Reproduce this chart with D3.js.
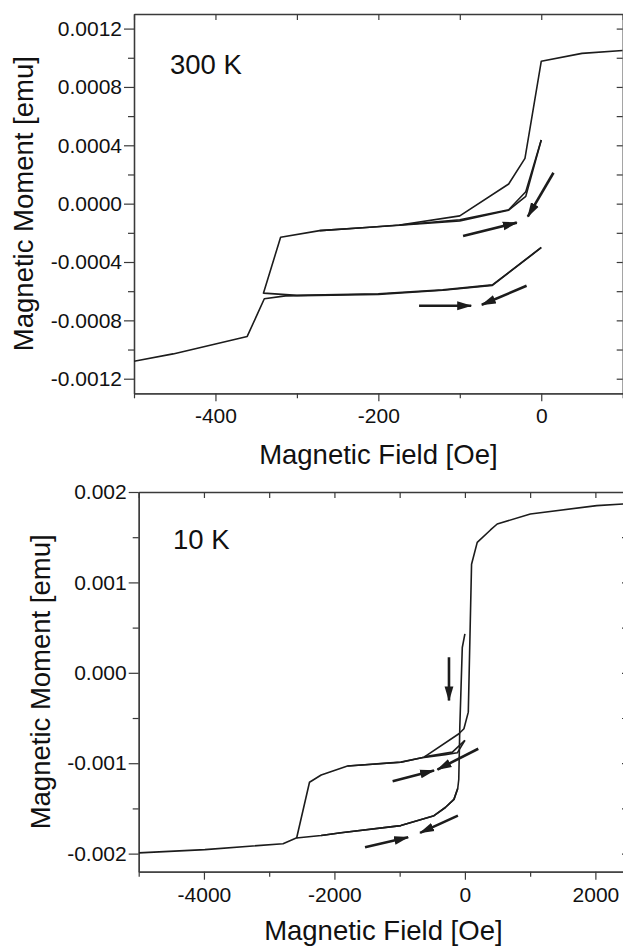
<!DOCTYPE html>
<html>
<head>
<meta charset="utf-8">
<script src="https://cdn.jsdelivr.net/npm/d3@7"></script>
<style>
    html, body { margin: 0; padding: 0; background: #fff; }
    svg { display: block; font-family: "Liberation Sans", Arial, Helvetica, sans-serif; }
</style>
</head>
<body>
<svg id="chart" width="623" height="948"></svg>
<script>
// ---- 300 K panel data: [field (Oe), moment (emu)] ----
const k300Main = [[100, 0.00105], [50, 0.00103], [0, 0.000976], [-20, 0.00031], [-40, 0.000135],
    [-100, -0.000084], [-174, -0.000146], [-215, -0.000164], [-272, -0.000185], [-320, -0.00023],
    [-341, -0.000613], [-300, -0.000629], [-200, -0.000618], [-121, -0.000591], [-60, -0.000557], [0, -0.0003]];
const k300MinorUp = [[-272, -0.000185], [-215, -0.000164], [-174, -0.000148], [-100, -0.000118], [-40, -0.000045],
    [-19, 0.00005], [0, 0.000436]];
const k300MinorDown = [[0, 0.000436], [-19, 0.000082], [-40, -0.000042], [-100, -0.00011], [-174, -0.000146]];
const k300Lower = [[-500, -0.00108], [-452, -0.00103], [-361, -0.00091], [-340, -0.000652], [-314, -0.000632],
    [-200, -0.000622], [-121, -0.000594], [-60, -0.00056], [0, -0.000302]];
const k300Arrows = [
    [[-96, -0.000221], [-30, -0.00013]],
    [[15, 0.000212], [-16.5, -0.000089]],
    [[-150, -0.0007], [-86, -0.0007]],
    [[-18, -0.000563], [-73, -0.000693]]
];
const k300XMajor = [-400, -200, 0];
const k300XMinor = [-500, -300, -100, 100];
const k300YMajor = [-0.0012, -0.0008, -0.0004, 0, 0.0004, 0.0008, 0.0012];
const k300YMinor = [-0.001, -0.0006, -0.0002, 0.0002, 0.0006, 0.001];

// ---- 10 K panel data ----
const k10Main = [[2500, 0.00187], [2021, 0.001849], [1003, 0.001757], [495, 0.001646], [392, 0.00158],
    [189, 0.001443], [102, 0.0012], [52, -0.000435], [-15, -0.000619], [-92, -0.000674], [-626, -0.000933],
    [-982, -0.00099], [-1800, -0.00103], [-2203, -0.00113], [-2382, -0.00121], [-2580, -0.00183]];
const k10Lower = [[-5000, -0.001992], [-3985, -0.001956], [-2788, -0.00189], [-2585, -0.001828],
    [-2203, -0.0018], [-1899, -0.00177], [-982, -0.00169], [-473, -0.00158], [-300, -0.00149],
    [-168, -0.0014], [-110, -0.00128], [-94, -0.00118], [-78, -0.0006], [-40, 0.00028], [0, 0.00043]];
const k10LowerReturn = [[-110, -0.00128], [-168, -0.0014], [-300, -0.00149], [-473, -0.00158],
    [-982, -0.00169], [-1899, -0.00177], [-2203, -0.0018]];
const k10MinorUp = [[-1800, -0.00103], [-982, -0.000988], [-626, -0.000935], [-300, -0.000905],
    [-116, -0.000885], [0, -0.000748]];
const k10MinorDown = [[0, -0.000748], [-192, -0.000877], [-626, -0.00093]];
const k10Arrows = [
    [[-244, 0.000172], [-244, -0.000306]],
    [[-1108, -0.0012], [-473, -0.00108]],
    [[205, -0.00084], [-421, -0.00107]],
    [[-1531, -0.00193], [-870, -0.00182]],
    [[-107, -0.00158], [-687, -0.00177]]
];
const k10XMajor = [-4000, -2000, 0, 2000];
const k10XMinor = [-5000, -3000, -1000, 1000];
const k10YMajor = [-0.002, -0.001, 0, 0.001, 0.002];
const k10YMinor = [-0.0015, -0.0005, 0.0005, 0.0015];

const panels = [
    {
        id: "p300", label: "300 K", xDomain: [-500, 100], yDomain: [-0.0013, 0.0013],
        left: 134, right: 622.7, top: 14, bottom: 393.3,
        xMajor: k300XMajor, xMinor: k300XMinor, yMajor: k300YMajor, yMinor: k300YMinor, yDigits: 4,
        curves: [k300Main, k300MinorUp, k300MinorDown, k300Lower], arrows: k300Arrows,
        labelX: 170, labelY: 74, yTitleX: 33, xTitleY: 464
    },
    {
        id: "p10", label: "10 K", xDomain: [-5000, 2500], yDomain: [-0.0022, 0.002],
        left: 138.7, right: 628, top: 492, bottom: 871.7,
        xMajor: k10XMajor, xMinor: k10XMinor, yMajor: k10YMajor, yMinor: k10YMinor, yDigits: 3,
        curves: [k10Main, k10Lower, k10LowerReturn, k10MinorUp, k10MinorDown], arrows: k10Arrows,
        labelX: 173, labelY: 549, yTitleX: 50, xTitleY: 940
    }
];

const svg = d3.select("#chart");
const axisColor = "#3a3a3a";
const lineColor = "#1c1c1c";

// arrowhead marker
svg.append("defs").append("marker")
    .attr("id", "head")
    .attr("markerUnits", "userSpaceOnUse")
    .attr("markerWidth", 15)
    .attr("markerHeight", 10)
    .attr("refX", 14)
    .attr("refY", 5)
    .attr("orient", "auto")
    .append("path")
    .attr("d", "M0,0.6 L15,5 L0,9.4 Z")
    .attr("fill", lineColor);

panels.forEach(p => {
    const x = d3.scaleLinear().domain(p.xDomain).range([p.left, p.right]);
    const y = d3.scaleLinear().domain(p.yDomain).range([p.bottom, p.top]);
    const g = svg.append("g").attr("id", p.id);

    svg.select("defs").append("clipPath")
        .attr("id", "clip-" + p.id)
        .append("rect")
        .attr("x", p.left).attr("y", p.top)
        .attr("width", p.right - p.left).attr("height", p.bottom - p.top);

    // axes: left/bottom ticks outward, top/right mirror ticks inward
    const fmtY = d => d.toFixed(p.yDigits);
    const axes = [
        { a: d3.axisLeft(y).tickValues(p.yMajor).tickSize(10).tickPadding(2).tickFormat(fmtY), t: `translate(${p.left},0)` },
        { a: d3.axisLeft(y).tickValues(p.yMinor).tickSize(6).tickFormat(""), t: `translate(${p.left},0)` },
        { a: d3.axisBottom(x).tickValues(p.xMajor).tickSize(8).tickPadding(7).tickFormat(d => String(d)), t: `translate(0,${p.bottom})` },
        { a: d3.axisBottom(x).tickValues(p.xMinor).tickSize(5).tickFormat(""), t: `translate(0,${p.bottom})` },
        { a: d3.axisTop(x).tickValues(p.xMajor.concat(p.xMinor)).tickSize(-6).tickFormat(""), t: `translate(0,${p.top})` },
        { a: d3.axisRight(y).tickValues(p.yMajor.concat(p.yMinor)).tickSize(-6).tickFormat(""), t: `translate(${p.right},0)` }
    ];
    axes.forEach(ax => {
        const sel = g.append("g")
            .attr("transform", ax.t)
            .call(ax.a.tickSizeOuter(0));
        sel.select(".domain").attr("stroke", axisColor).attr("stroke-width", 1.3);
        sel.selectAll(".tick line").attr("stroke", axisColor).attr("stroke-width", 1.2);
        sel.selectAll("text")
            .attr("font-family", "'Liberation Sans', Arial, sans-serif")
            .attr("font-size", 21)
            .attr("fill", "#111");
    });

    // curves
    const line = d3.line().x(d => x(d[0])).y(d => y(d[1]));
    g.append("g")
        .attr("clip-path", `url(#clip-${p.id})`)
        .selectAll("path")
        .data(p.curves)
        .join("path")
        .attr("d", line)
        .attr("fill", "none")
        .attr("stroke", lineColor)
        .attr("stroke-width", 1.6)
        .attr("stroke-linejoin", "round");

    // direction arrows
    g.append("g")
        .selectAll("line")
        .data(p.arrows)
        .join("line")
        .attr("x1", d => x(d[0][0]))
        .attr("y1", d => y(d[0][1]))
        .attr("x2", d => x(d[1][0]))
        .attr("y2", d => y(d[1][1]))
        .attr("stroke", lineColor)
        .attr("stroke-width", 2.6)
        .attr("marker-end", "url(#head)");

    // temperature label
    g.append("text")
        .attr("x", p.labelX)
        .attr("y", p.labelY)
        .attr("font-size", 27.5)
        .attr("fill", "#111")
        .text(p.label);

    // axis titles
    g.append("text")
        .attr("transform", `translate(${p.yTitleX},${(p.top + p.bottom) / 2}) rotate(-90)`)
        .attr("text-anchor", "middle")
        .attr("font-size", 27.5)
        .attr("fill", "#111")
        .text("Magnetic Moment [emu]");

    g.append("text")
        .attr("x", (p.left + p.right) / 2)
        .attr("y", p.xTitleY)
        .attr("text-anchor", "middle")
        .attr("font-size", 27.5)
        .attr("fill", "#111")
        .text("Magnetic Field [Oe]");
});
</script>
</body>
</html>
